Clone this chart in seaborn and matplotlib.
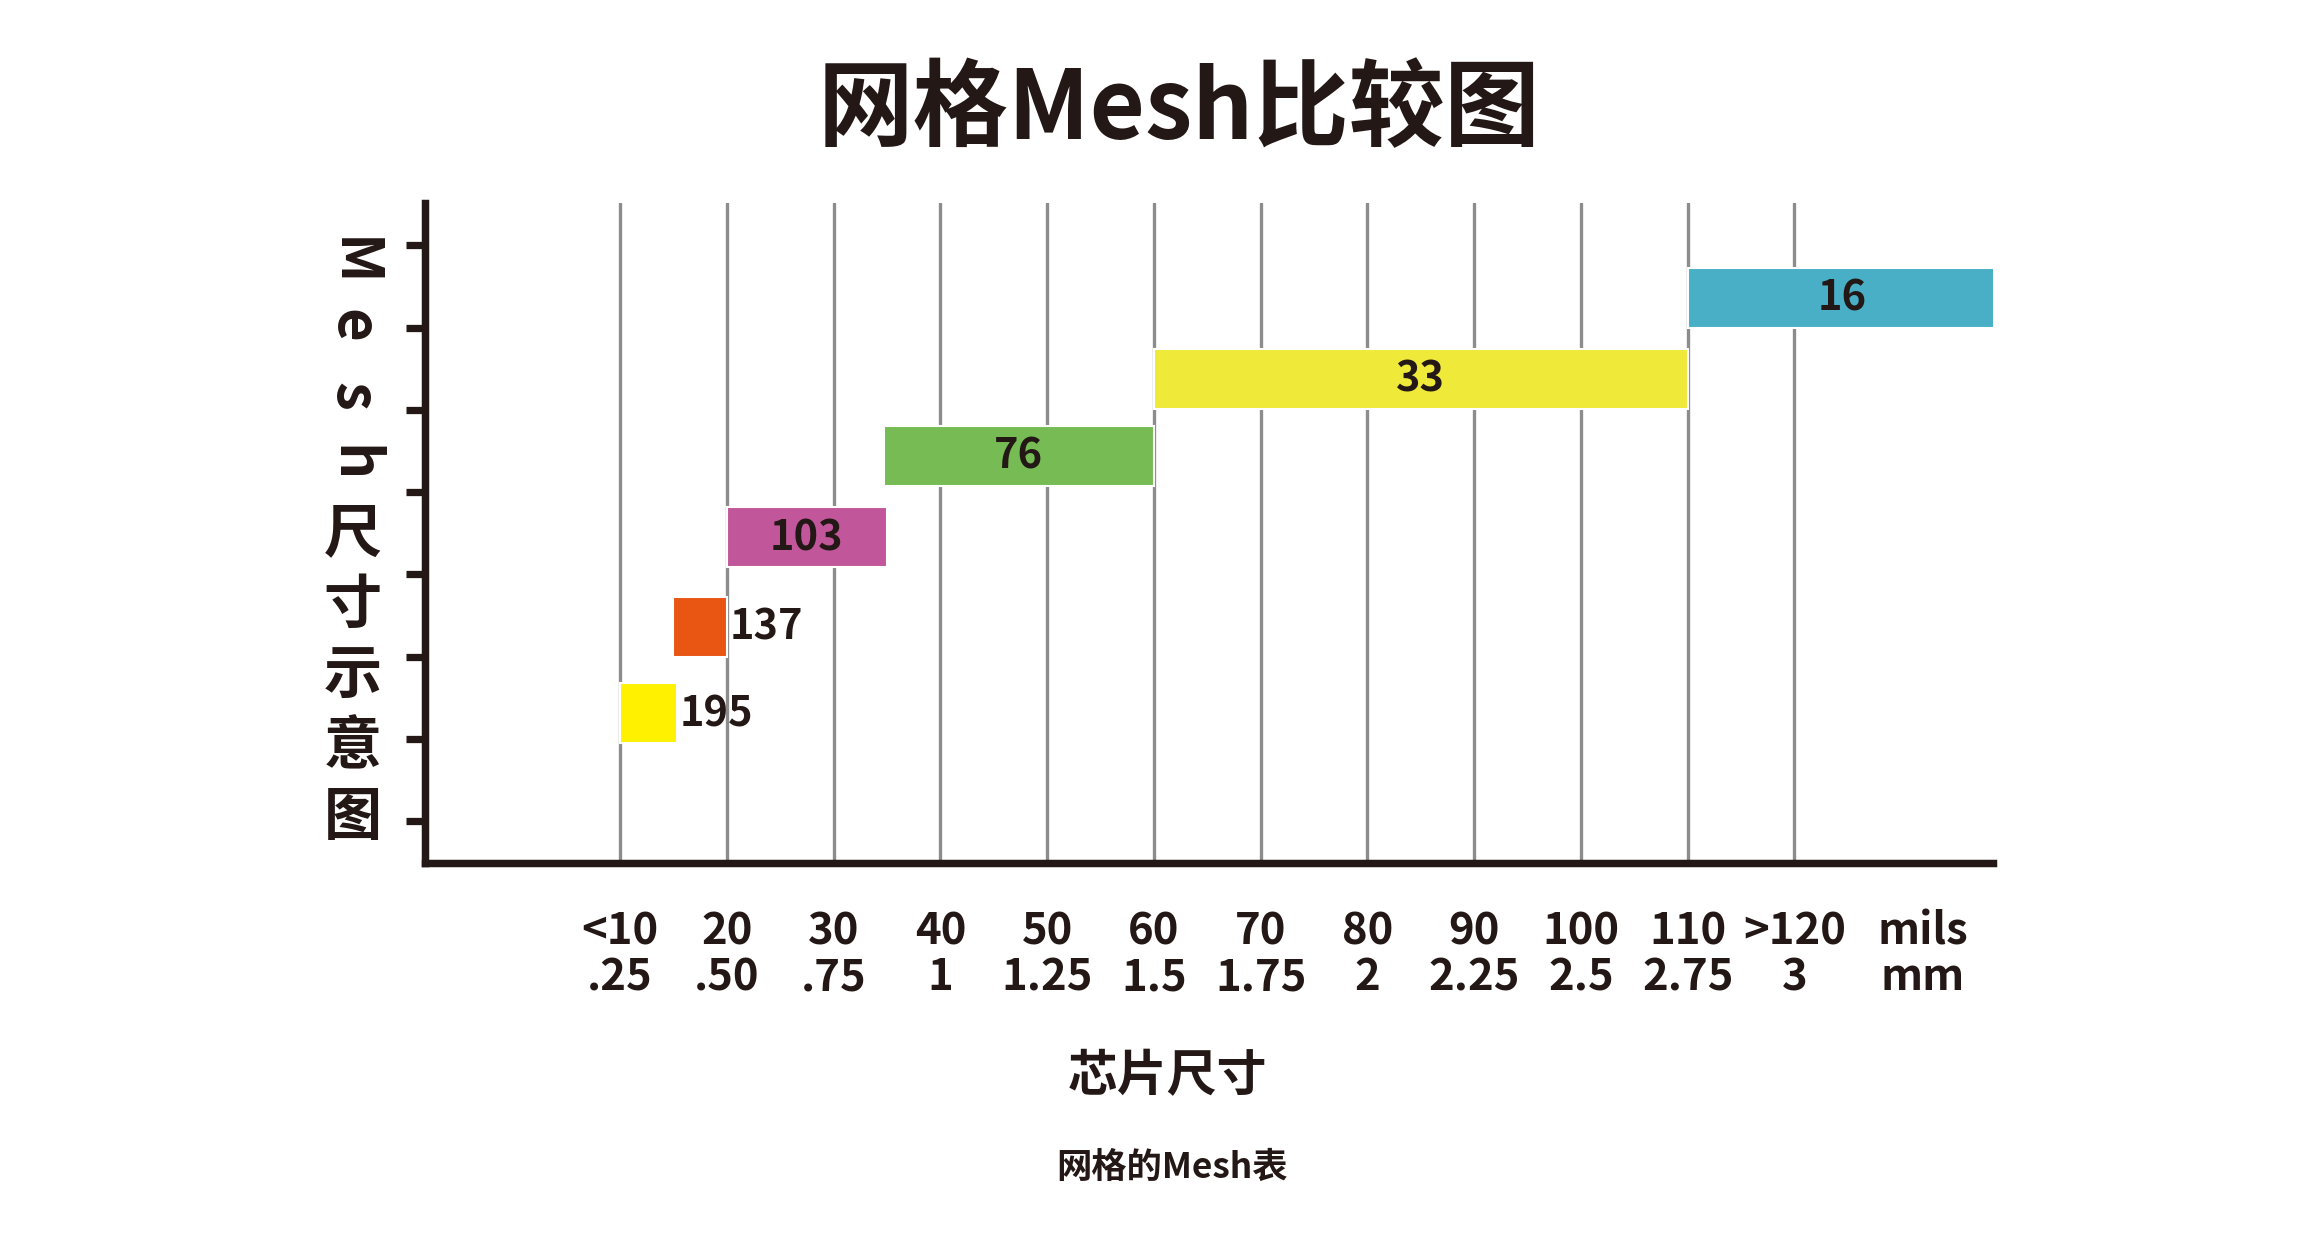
import matplotlib.pyplot as plt
import seaborn as sns

sns.set_theme(style="white")
plt.rcParams["font.family"] = "Noto Sans CJK SC"

# x categories (chip size) and mesh bars
mils = ["<10", "20", "30", "40", "50", "60", "70", "80", "90", "100", "110", ">120"]
mm = [".25", ".50", ".75", "1", "1.25", "1.5", "1.75", "2", "2.25", "2.5", "2.75", "3"]
mesh = [195, 137, 103, 76, 33, 16]
bar_start = [0, 0.5, 1, 2.47, 5, 10]
bar_end = [0.53, 1, 2.5, 5, 10, 12.9]
bar_row = [1.82, 2.87, 3.96, 4.95, 5.89, 6.87]
colors = ["#FFF100", "#E95513", "#C1579A", "#76BB53", "#EFE93A", "#48AFC6"]
ink = "#231815"

fig = plt.figure(figsize=(15.52, 8.28), dpi=149.5)
ax = fig.add_axes([0.183, 0.302, 0.676, 0.533])
ax.set_xlim(-1.83, 12.86)
ax.set_ylim(0, 8.02)

for i in range(len(mils)):
    ax.axvline(i, color="#8c8c8c", lw=1.6, zorder=1)

widths = [e - s for s, e in zip(bar_start, bar_end)]
ax.barh(bar_row, widths, left=bar_start, height=0.73, color=colors, zorder=2)

for v, s, e, r in zip(mesh, bar_start, bar_end, bar_row):
    if e - s > 1:
        ax.text((s + e) / 2, r, str(v), ha="center", va="center", fontsize=20,
                fontweight="bold", color=ink, zorder=3)
    else:
        ax.text(e + 0.03, r, str(v), ha="left", va="center", fontsize=20,
                fontweight="bold", color=ink, zorder=3)

for side in ["top", "right"]:
    ax.spines[side].set_visible(False)
for side in ["left", "bottom"]:
    ax.spines[side].set_linewidth(3.6)
    ax.spines[side].set_color(ink)

ax.set_yticks([0.51 + k for k in range(8)])
ax.set_yticklabels([])
ax.tick_params(axis="y", direction="out", length=9, width=3.5, color=ink, left=True)
ax.set_xticks(list(range(len(mils))) + [12.2])
ax.set_xticklabels([f"{a}\n{b}" for a, b in zip(mils, mm)] + ["mils\nmm"],
                   fontsize=21, fontweight="bold", color=ink, linespacing=1.05)
ax.tick_params(axis="x", length=0, pad=22)

fig.text(0.508, 0.91, "网格Mesh比较图", ha="center", va="center", fontsize=46,
         fontweight="bold", color=ink)
fig.text(0.503, 0.13, "芯片尺寸", ha="center", va="center", fontsize=24,
         fontweight="bold", color=ink)
fig.text(0.505, 0.057, "网格的Mesh表", ha="center", va="center", fontsize=17,
         fontweight="bold", color=ink)

# vertical y label, latin letters rotated
ylab = [("M", 175, -90), ("e", 218, -90), ("s", 265, -90), ("h", 310, -90),
        ("尺", 357, 0), ("寸", 405, 0), ("示", 452, 0), ("意", 500, 0), ("图", 547, 0)]
for ch, py, rot in ylab:
    fig.text(236 / 1552, 1 - py / 828, ch, ha="center", va="center", rotation=rot,
             fontsize=28, fontweight="bold", color=ink)

fig.savefig("out.png", dpi=149.5, facecolor="white")
